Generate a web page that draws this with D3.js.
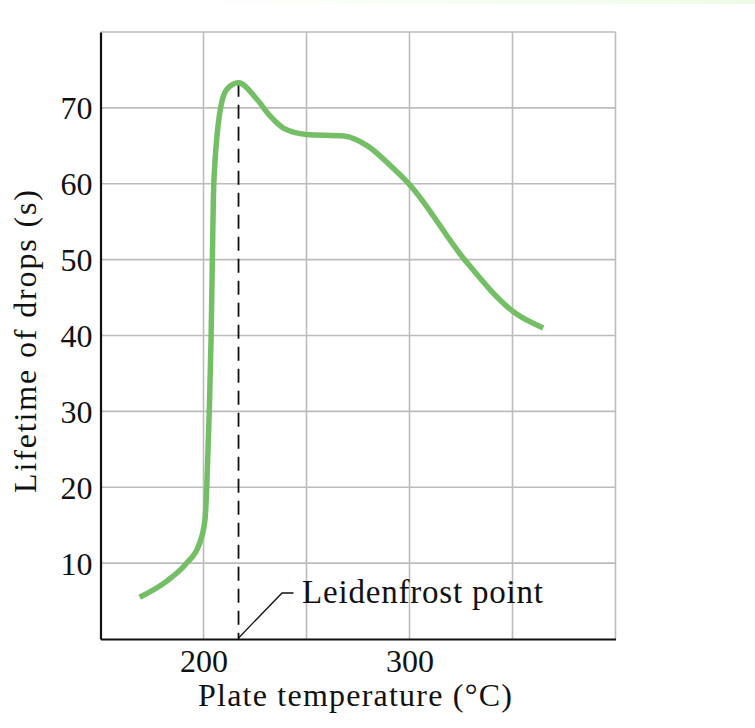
<!DOCTYPE html>
<html>
<head>
<meta charset="utf-8">
<title>Leidenfrost point</title>
<script src="https://d3js.org/d3.v7.min.js"></script>
<style>
  body { margin: 0; padding: 0; background: #fff; }
  text { font-family: 'Liberation Serif', 'DejaVu Serif', serif; fill: #111; }
</style>
</head>
<body>
<div id="my_dataviz"></div>
<script>
// data: plate temperature (C) vs lifetime of drops (s)
var temps    = [169, 182, 191.8, 197.8, 200.7, 201.6, 202.8, 203.7, 204.3, 205, 208.3, 211.5, 217,
                226, 232.4, 239, 250, 268.2, 279.6, 292.6, 300, 326.7, 351.1, 364.9];
var lifetime = [5.5, 7.6, 10, 12.4, 15.7, 20.1, 30, 40, 50, 60, 70, 72.5, 73.3,
                71.1, 68.9, 67.3, 66.5, 66.3, 65, 61.9, 59.9, 50, 43, 41];
var xTicks = [200, 300];
var xGrid = [200, 250, 300, 350, 400];
var yTicks = [10, 20, 30, 40, 50, 60, 70];
var yGrid = [10, 20, 30, 40, 50, 60, 70, 80];
var leidenfrostTemp = 217;
var leidenfrostLife = 73.3;

var serif = "'Liberation Serif', 'DejaVu Serif', serif";
var width = 755, height = 728;
var margin = {top: 32, right: 139.5, bottom: 89, left: 100.5};

var svg = d3.select("#my_dataviz")
  .append("svg")
    .attr("width", width)
    .attr("height", height);

// faint tint at the top of the scan
var grad = svg.append("defs").append("linearGradient").attr("id", "tint");
grad.append("stop").attr("offset", "0%").attr("stop-color", "#ffffff");
grad.append("stop").attr("offset", "100%").attr("stop-color", "#eefbe6");
svg.append("rect").attr("x", 180).attr("y", 0).attr("width", 575).attr("height", 4)
  .style("fill", "url(#tint)");

var x = d3.scaleLinear()
  .domain([150, 400])
  .range([margin.left, width - margin.right]);
var y = d3.scaleLinear()
  .domain([0, 80])
  .range([height - margin.bottom, margin.top]);

// grid
svg.append("g").selectAll("line")
  .data(xGrid).enter().append("line")
    .attr("x1", function(d) { return x(d); })
    .attr("x2", function(d) { return x(d); })
    .attr("y1", y(0)).attr("y2", y(80))
    .style("stroke", "#bcbcbc").style("stroke-width", 1.6);
svg.append("g").selectAll("line")
  .data(yGrid).enter().append("line")
    .attr("x1", x(150)).attr("x2", x(400))
    .attr("y1", function(d) { return y(d); })
    .attr("y2", function(d) { return y(d); })
    .style("stroke", "#bcbcbc").style("stroke-width", 1.6);

// axes
var xAxis = svg.append("g")
  .attr("transform", "translate(0," + y(0) + ")")
  .call(d3.axisBottom(x).tickValues(xTicks).tickSize(0).tickPadding(10));
var yAxis = svg.append("g")
  .attr("transform", "translate(" + x(150) + ",0)")
  .call(d3.axisLeft(y).tickValues(yTicks).tickSize(0).tickPadding(8));
[xAxis, yAxis].forEach(function(a) {
  a.attr("font-family", serif).attr("font-size", 32);
  a.select(".domain").style("stroke", "#111").style("stroke-width", 2.2);
  a.selectAll("text").style("font-family", serif).style("font-size", "32px").style("fill", "#111");
});
xAxis.selectAll("text").attr("dy", "0.72em");
yAxis.selectAll("text").attr("dy", "0.34em");

// dashed line at the Leidenfrost point
svg.append("line")
  .attr("x1", x(leidenfrostTemp)).attr("x2", x(leidenfrostTemp))
  .attr("y1", y(leidenfrostLife)).attr("y2", y(0))
  .style("stroke", "#111").style("stroke-width", 1.8)
  .style("stroke-dasharray", "14,8");

// curve
var pts = temps.map(function(t, i) { return [t, lifetime[i]]; });
var line = d3.line()
  .x(function(d) { return x(d[0]); })
  .y(function(d) { return y(d[1]); })
  .curve(d3.curveMonotoneX);
svg.append("path")
  .datum(pts)
  .attr("d", line)
  .style("fill", "none")
  .style("stroke", "#74bf66")
  .style("stroke-width", 5.5)
  .style("stroke-linecap", "butt");

// annotation leader
var lx0 = x(leidenfrostTemp), ly0 = y(0) - 1;
svg.append("path")
  .attr("d", "M" + lx0 + "," + ly0 + " L" + (lx0 + 43.5) + "," + (ly0 - 45) + " L" + (lx0 + 55) + "," + (ly0 - 45))
  .style("fill", "none").style("stroke", "#111").style("stroke-width", 1.3);
svg.append("text")
  .attr("x", 302).attr("y", 603)
  .attr("font-family", serif)
  .attr("textLength", 241).attr("lengthAdjust", "spacing")
  .style("font-size", "33px")
  .text("Leidenfrost point");

// axis titles
svg.append("text")
  .attr("x", 198).attr("y", 706)
  .attr("font-family", serif)
  .attr("textLength", 314).attr("lengthAdjust", "spacing")
  .style("font-size", "32px")
  .text("Plate temperature (\u00B0C)");
svg.append("text")
  .attr("transform", "translate(36,493) rotate(-90)")
  .attr("font-family", serif)
  .attr("textLength", 303).attr("lengthAdjust", "spacing")
  .style("font-size", "32px")
  .text("Lifetime of drops (s)");
</script>
</body>
</html>
